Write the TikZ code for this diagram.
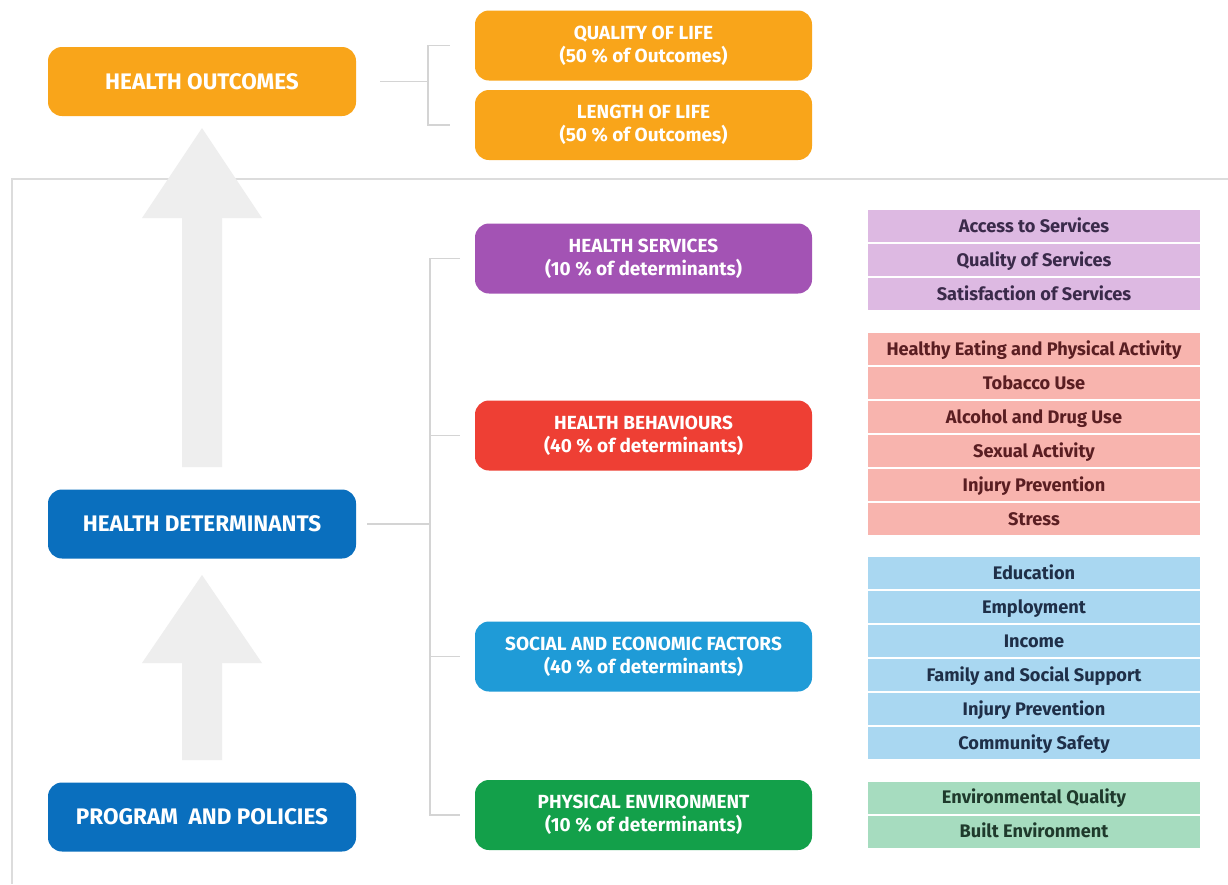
\documentclass[tikz,border=0pt]{standalone}
\usepackage{fontspec}
\setmainfont{Fira Sans}
\begin{document}
\begin{tikzpicture}[x=1pt,y=-1pt,
  conn/.style={draw=linegray,line width=1.6pt},
  framestyle/.style={draw=framegray,line width=2pt},
  bigarrow/.style={fill=arrowgray},
  mainbox/.style={rounded corners=14pt,minimum width=308pt,minimum height=69pt,
    text=white,font=\fontsize{22.5}{26}\selectfont\bfseries,inner sep=0pt},
  subbox/.style={rounded corners=14pt,minimum width=337pt,minimum height=70pt,
    text=white,font=\fontsize{19}{23}\selectfont\bfseries,align=center,inner sep=0pt},
  listrow/.style={minimum width=332pt,minimum height=32pt,inner sep=0pt,
    text height=13pt,text depth=1pt,
    font=\fontsize{18.2}{20}\selectfont\bfseries},
  rowpurple/.style={listrow,fill=lpurple,text=tpurple},
  rowred/.style={listrow,fill=lred,text=tred},
  rowblue/.style={listrow,fill=lblue,text=tblue},
  rowgreen/.style={listrow,fill=lgreen,text=tgreen}]
\definecolor{orangeC}{HTML}{F9A51A}
\definecolor{blueC}{HTML}{0A6FBE}
\definecolor{purpleC}{HTML}{A353B4}
\definecolor{redC}{HTML}{EE3F34}
\definecolor{cyanC}{HTML}{1F9BD7}
\definecolor{greenC}{HTML}{13A04A}
\definecolor{lpurple}{HTML}{DDB9E2}
\definecolor{lred}{HTML}{F8B4AE}
\definecolor{lblue}{HTML}{A9D7F1}
\definecolor{lgreen}{HTML}{A6DCBF}
\definecolor{tpurple}{HTML}{3A2A4A}
\definecolor{tred}{HTML}{5A1E22}
\definecolor{tblue}{HTML}{1F2F48}
\definecolor{tgreen}{HTML}{1F3A2C}
\definecolor{linegray}{HTML}{D4D4D4}
\definecolor{framegray}{HTML}{DCDCDC}
\definecolor{arrowgray}{HTML}{EEEEEE}
\useasboundingbox (0,0) rectangle (1228,884);
\fill[white] (0,0) rectangle (1228,884);

% frame lines
\draw[framestyle] (1228,179) -- (12,179) -- (12,884);

% big arrows
\fill[bigarrow] (182,467) -- (182,218) -- (142,218) -- (202,128) -- (262,218) -- (222,218) -- (222,467) -- cycle;
\fill[bigarrow] (182,760) -- (182,663) -- (142,663) -- (202,575) -- (262,663) -- (222,663) -- (222,760) -- cycle;

% left column
\node[mainbox,fill=orangeC] (ho) at (202,81.5) {HEALTH OUTCOMES};
\node[mainbox,fill=blueC] (hd) at (202,524) {HEALTH DETERMINANTS};
\node[mainbox,fill=blueC] (pp) at (202,817) {PROGRAM\ \ AND POLICIES};

% outcomes
\node[subbox,fill=orangeC] (qol) at (643.5,45.5) {QUALITY OF LIFE\\(50 \% of Outcomes)};
\node[subbox,fill=orangeC] (lol) at (643.5,125) {LENGTH OF LIFE\\(50 \% of Outcomes)};

% determinants
\node[subbox,fill=purpleC] (hs) at (643.5,258.5) {HEALTH SERVICES\\(10 \% of determinants)};
\node[subbox,fill=redC] (hb) at (643.5,435.5) {HEALTH BEHAVIOURS\\(40 \% of determinants)};
\node[subbox,fill=cyanC] (se) at (643.5,656.5) {SOCIAL AND ECONOMIC FACTORS\\(40 \% of determinants)};
\node[subbox,fill=greenC] (pe) at (643.5,815) {PHYSICAL ENVIRONMENT\\(10 \% of determinants)};

% connectors outcomes
\coordinate (ojoin) at ([xshift=72pt]ho.east);
\draw[conn] ([xshift=24pt]ho.east) -- (ojoin);
\draw[conn] ([xshift=-25pt]qol.west) -| (ojoin);
\draw[conn] ([xshift=-25pt]lol.west) -| (ojoin);

% connectors determinants
\coordinate (djoin) at ([xshift=74pt]hd.east);
\draw[conn] ([xshift=11pt]hd.east) -- (djoin);
\draw[conn] ([xshift=-15pt]hs.west) -| (djoin);
\draw[conn] ([xshift=-15pt]hb.west) -| (djoin);
\draw[conn] ([xshift=-15pt]se.west) -| (djoin);
\draw[conn] ([xshift=-15pt]pe.west) -| (djoin);

% rows
\node[rowpurple] (p1) at (1034,226) {Access to Services};
\node[rowpurple] (p2) at (1034,260) {Quality of Services};
\node[rowpurple] (p3) at (1034,294) {Satisfaction of Services};

\node[rowred] (r1) at (1034,349) {Healthy Eating and Physical Activity};
\node[rowred] (r2) at (1034,383) {Tobacco Use};
\node[rowred] (r3) at (1034,417) {Alcohol and Drug Use};
\node[rowred] (r4) at (1034,451) {Sexual Activity};
\node[rowred] (r5) at (1034,485) {Injury Prevention};
\node[rowred] (r6) at (1034,519) {Stress};

\node[rowblue] (b1) at (1034,573) {Education};
\node[rowblue] (b2) at (1034,607) {Employment};
\node[rowblue] (b3) at (1034,641) {Income};
\node[rowblue] (b4) at (1034,675) {Family and Social Support};
\node[rowblue] (b5) at (1034,709) {Injury Prevention};
\node[rowblue] (b6) at (1034,743) {Community Safety};

\node[rowgreen] (g1) at (1034,797.5) {Environmental Quality};
\node[rowgreen] (g2) at (1034,831.5) {Built Environment};
\end{tikzpicture}
\end{document}
